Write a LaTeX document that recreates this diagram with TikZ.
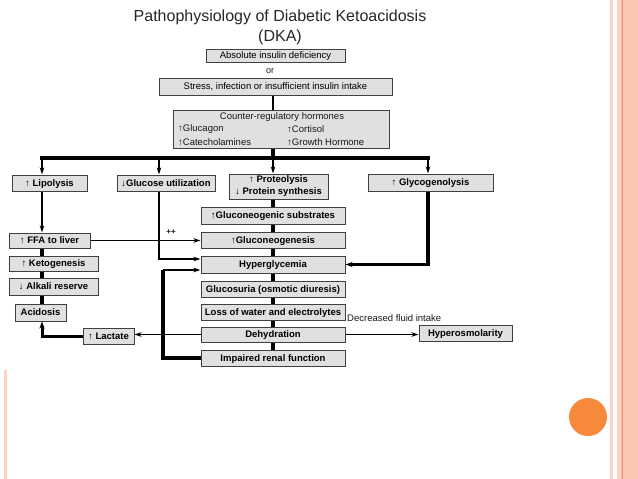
\documentclass[tikz,border=0pt]{standalone}
\usepackage{fontspec}
\setmainfont{Liberation Sans}
\usetikzlibrary{arrows.meta,calc}
\definecolor{boxfill}{HTML}{E0E0E0}
\definecolor{boxline}{HTML}{404040}
\definecolor{salmon}{HTML}{FBC6AF}
\definecolor{salmonlight}{HTML}{FCD3C2}
\definecolor{salmondark}{HTML}{E38E6A}
\definecolor{dotorange}{HTML}{F6893B}
\begin{document}
\begin{tikzpicture}[x=1pt,y=-1pt,
  box/.style={draw=boxline, fill=boxfill, line width=1pt, inner sep=0pt,
    font=\fontsize{9.5}{12}\selectfont\bfseries, text=black,
    text height=7.2pt, text depth=1pt},
  plainbox/.style={box, font=\fontsize{9.5}{11}\selectfont},
  plaintext/.style={inner sep=0pt, font=\fontsize{9.5}{11}\selectfont, text=black!90},
  arr/.style={line width=1.7pt, -{Stealth[length=7pt,width=4.5pt]}},
  bigarr/.style={line width=3pt, -{Stealth[length=7pt,width=5pt]}},
  bar/.style={line width=4pt},
]
\useasboundingbox (0,0) rectangle (638,479);
% slide decorations
\fill[salmon] (617,0) rectangle (638,479);
\fill[salmonlight] (617,0) rectangle (621,479);
\draw[salmondark, line width=1pt] (622,0) -- (622,479);
\fill[salmonlight] (610,0) rectangle (613,479);
\fill[salmonlight] (4,370) rectangle (6.5,479);
\fill[dotorange] (588,417) circle (19);

% title
\node[font=\fontsize{16}{18}\selectfont, text=black!85] (title) at (280,17) {Pathophysiology of Diabetic Ketoacidosis};
\node[font=\fontsize{16}{18}\selectfont, text=black!85] (dka) at (280,37) {(DKA)};

% helper coordinates
\coordinate (sp) at (273,0);
\coordinate (lx) at (42,0);
\coordinate (ux) at (159,0);
\coordinate (gx) at (428,0);
\coordinate (rx) at (163,0);
\coordinate (busL) at (40,158);
\coordinate (busR) at (430,158);

% top boxes
\node[plainbox, minimum width=139, minimum height=13] (abs) at (275.5,55.5) {Absolute insulin deficiency};
\node[plaintext, font=\fontsize{9}{10}\selectfont] (or) at (270,71) {or};
\node[plainbox, minimum width=233, minimum height=17] (stress) at (275.5,86.5) {Stress, infection or insufficient insulin intake};
\node[plainbox, minimum width=216, minimum height=38] (counter) at (281,129) {};
\node[plaintext] (crh) at (282,117) {Counter-regulatory hormones};
\node[plaintext, anchor=west] (glucagon) at (178,129) {↑Glucagon};
\node[plaintext, anchor=west] (catechol) at (178,142) {↑Catecholamines};
\node[plaintext, anchor=west] (cortisol) at (287,129) {↑Cortisol};
\node[plaintext, anchor=west] (growth) at (287,142) {↑Growth Hormone};

% second row
\node[box, minimum width=75, minimum height=16] (lipo) at (49.5,183) {↑ Lipolysis};
\node[box, minimum width=98, minimum height=16] (gluu) at (166,183) {↓Glucose utilization};
\node[box, minimum width=99, minimum height=25, align=center, text height=, text depth=] (prot) at (278.5,186.5) {↑ Proteolysis\\↓ Protein synthesis};
\node[box, minimum width=125, minimum height=17] (glyco) at (430.5,182.5) {↑ Glycogenolysis};

% central column
\node[box, minimum width=144, minimum height=17] (subs) at (273,215.5) {↑Gluconeogenic substrates};
\node[box, minimum width=144, minimum height=16] (gneo) at (273,240) {↑Gluconeogenesis};
\node[box, minimum width=144, minimum height=17] (hyper) at (273,264.5) {Hyperglycemia};
\node[box, minimum width=144, minimum height=16] (gsuria) at (273,289) {Glucosuria (osmotic diuresis)};
\node[box, minimum width=144, minimum height=16] (loss) at (273,312) {Loss of water and electrolytes};
\node[box, minimum width=144, minimum height=15] (dehyd) at (273,334.5) {Dehydration};
\node[box, minimum width=144, minimum height=16] (renal) at (273,358) {Impaired renal function};

% left column
\node[box, minimum width=81, minimum height=15] (ffa) at (49.5,240.5) {↑ FFA to liver};
\node[box, minimum width=89, minimum height=15] (keto) at (53.5,263.5) {↑ Ketogenesis};
\node[box, minimum width=89, minimum height=17] (alk) at (53.5,286.5) {↓ Alkali reserve};
\node[box, minimum width=51, minimum height=17] (acid) at (40.5,312.5) {Acidosis};
\node[box, minimum width=51, minimum height=16] (lact) at (108.5,336) {↑ Lactate};

% right
\node[box, minimum width=93, minimum height=16] (hyperos) at (465.5,333) {Hyperosmolarity};
\node[plaintext, anchor=west] (dfi) at (347,318) {Decreased fluid intake};
\node[plaintext, font=\fontsize{8}{9}\selectfont\bfseries] (plus) at (171,232) {++};

\coordinate (hyperhi) at ([yshift=5.5pt]hyper.west);
\coordinate (hyperlo) at ([yshift=-5.5pt]hyper.west);

% connectors: top
\draw[line width=2.5pt] (stress.south -| sp) -- (counter.north -| sp);
\draw[bar] (counter.south -| sp) -- (sp |- busL);
\draw[bar] (busL) -- (busR);
\draw[arr] (lx |- busL) -- (lipo.north -| lx);
\draw[arr] (ux |- busL) -- (gluu.north -| ux);
\draw[arr] (sp |- busL) -- (prot.north -| sp);
\draw[arr] (gx |- busL) -- (glyco.north -| gx);

% central spine
\foreach \a/\b in {prot/subs, subs/gneo, gneo/hyper, hyper/gsuria, gsuria/loss, loss/dehyd, dehyd/renal}
  \draw[bar] (\a.south -| sp) -- (\b.north -| sp);

% glycogenolysis -> hyperglycemia
\draw[bigarr, line width=3.5pt] (glyco.south -| gx) |- (hyper.east);
% glucose utilization -> hyperglycemia
\draw[arr] (gluu.south -| ux) |- (hyperhi);
% impaired renal function -> hyperglycemia
\draw[bar] (renal.west) -| (rx |- hyperlo);
\draw[arr] (rx |- hyperlo) -- (hyperlo);

% left column
\draw[arr] (lipo.south -| lx) -- (ffa.north -| lx);
\draw[arr] (ffa.east) -- (ffa.east -| gneo.west);
\draw[bar] (ffa.south -| lx) -- (keto.north -| lx);
\draw[bar] (keto.south -| lx) -- (alk.north -| lx);
\draw[bar] (alk.south -| lx) -- (acid.north -| lx);
\draw[bigarr] (lact.west) -| (acid.south -| lx);
\draw[arr] (dehyd.west) -- (dehyd.west -| lact.east);
\draw[arr] (dehyd.east) -- (dehyd.east -| hyperos.west);
\end{tikzpicture}
\end{document}
